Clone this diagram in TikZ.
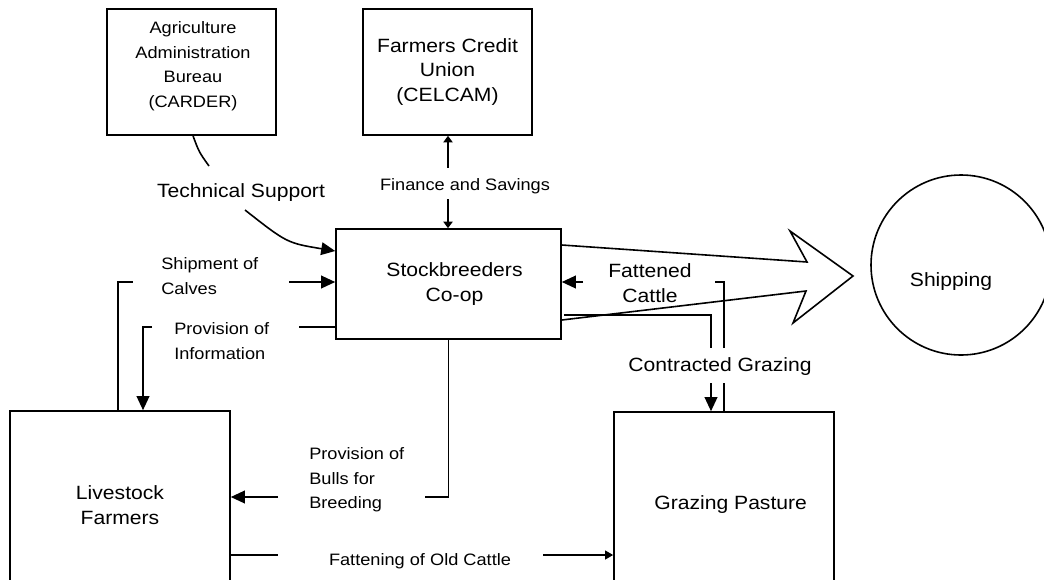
\documentclass[tikz,border=0pt]{standalone}
\usepackage{fontspec}
\setmainfont{Liberation Sans}[FakeStretch=1.1]
\usetikzlibrary{arrows.meta,calc}
\newcommand\biglab{\fontsize{14.4}{18.4}\selectfont}
\newcommand\smalllab{\fontsize{12.4}{18.4}\selectfont}
\tikzset{
  ln/.style={line width=1.2pt},
  arr/.style={ln,-{Triangle[length=10.5pt,width=9.5pt]}},
  smallarr/.style={ln,-{Triangle[length=6pt,width=6.5pt]}},
  tinyarr/.style={ln,-{Triangle[length=5pt,width=7pt]}},
  boxsize/.style 2 args={minimum width={#1*0.75pt},minimum height={#2*0.75pt}},
  box/.style={draw,ln,rectangle,inner sep=0pt,align=center,font=\biglab},
  biglabel/.style={inner sep=0pt,align=center,font=\biglab},
  smalllabel/.style={inner sep=0pt,align=center,font=\smalllab},
  leftlabel/.style={inner sep=0pt,align=left,anchor=west,font=\smalllab},
}
\begin{document}
\begin{tikzpicture}[x=0.75pt,y=-0.75pt]
\useasboundingbox (0,0) rectangle (1044,579);
\clip (0,0) rectangle (1044,579);

% organisations
\node[box,boxsize={169}{126}] (agri) at (191.5,72) {};
\node[smalllabel] (agritext) at (193,66)
  {Agriculture\\Administration\\Bureau\\(CARDER)};
\node[box,boxsize={169}{126}] (celcam) at (447.5,72)
  {Farmers Credit\\Union\\(CELCAM)};
\node[box,boxsize={225}{110}] (stock) at (448.5,284)
  {\hspace*{9pt}Stockbreeders\\\hspace*{9pt}Co-op};
\node[box,boxsize={220}{188}] (live) at (120,505)
  {Livestock\\Farmers};
\node[box,boxsize={220}{186}] (graze) at (724,505)
  {\hspace*{10pt}Grazing Pasture};
\node[draw,ln,circle,inner sep=0pt,minimum size={180*0.75pt}] (ship) at (961,265) {};
\node[biglabel] (shiptext) at (951,282) {Shipping};

% outgoing block arrow towards shipping
\draw[ln,line join=miter] ($(stock.east)+(0,-39)$) -- (807,262) -- (790,231)
  -- (853,276) -- (793,323) -- (806,291) -- ($(stock.east)+(0,36)$);

% technical support
\node[biglabel] (tech) at (241,193) {Technical Support};
\coordinate (ts1) at (209,166);
\coordinate (ts2) at (245,210);
\draw[ln] ($(agri.south)+(1.5,0)$) .. controls (199,152) .. (ts1);
\draw[arr] (ts2) .. controls (287,243) .. ($(stock.west)+(0,-33)$);

% finance and savings
\node[smalllabel] (fin) at (465,186) {Finance and Savings};
\draw[tinyarr] ($(celcam.south)+(0.5,32)$) -- ($(celcam.south)+(0.5,0)$);
\draw[tinyarr] ($(stock.north)+(-0.5,-29)$) -- ($(stock.north)+(-0.5,0)$);

% shipment of calves
\node[leftlabel] (calves) at (161,276) {Shipment of\\Calves};
\coordinate (sc1) at (133,282);
\coordinate (sc2) at (289,282);
\draw[ln] ($(live.north)+(-2,0)$) |- (sc1);
\draw[arr] (sc2) -- ($(stock.west)+(0,-2)$);

% provision of information
\node[leftlabel] (info) at (174,341) {Provision of\\Information};
\coordinate (pi1) at (299,327);
\coordinate (pi2) at (152,327);
\draw[ln] ($(stock.west)+(0,43)$) -- (pi1);
\draw[arr] (pi2) -| ($(live.north)+(23,0)$);

% provision of bulls
\node[leftlabel] (bulls) at (309,480) {Provision of\\Bulls for\\Breeding};
\coordinate (pb1) at (425,497);
\coordinate (pb2) at (278,497);
\draw[ln] (stock.south) |- (pb1);
\draw[arr] (pb2) -- ($(live.east)+(0,-8)$);

% fattening of old cattle
\node[smalllabel] (old) at (420,561) {Fattening of Old Cattle};
\coordinate (fo1) at (278,555);
\coordinate (fo2) at (543,555);
\draw[ln] ($(live.east)+(0,50)$) -- (fo1);
\draw[smallarr] (fo2) -- ($(graze.west)+(0,50)$);

% contracted grazing
\node[biglabel] (contract) at (720,367) {Contracted Grazing};
\coordinate (cg1) at (711,348);
\coordinate (cg2) at (711,383);
\draw[ln] ($(stock.east)+(2,31)$) -| (cg1);
\draw[arr] (cg2) -- ($(graze.north)+(-13,0)$);

% fattened cattle
\node[biglabel] (fattened) at (650,283) {Fattened\\Cattle};
\coordinate (fc1) at (724,383);
\coordinate (fc2) at (724,348);
\coordinate (fc3) at (715,282);
\coordinate (fc4) at (583,282);
\draw[ln] ($(graze.north)+(0,1)$) -- (fc1);
\draw[ln] (fc2) |- (fc3);
\draw[arr] (fc4) -- ($(stock.east)+(0,-2)$);
\end{tikzpicture}
\end{document}
